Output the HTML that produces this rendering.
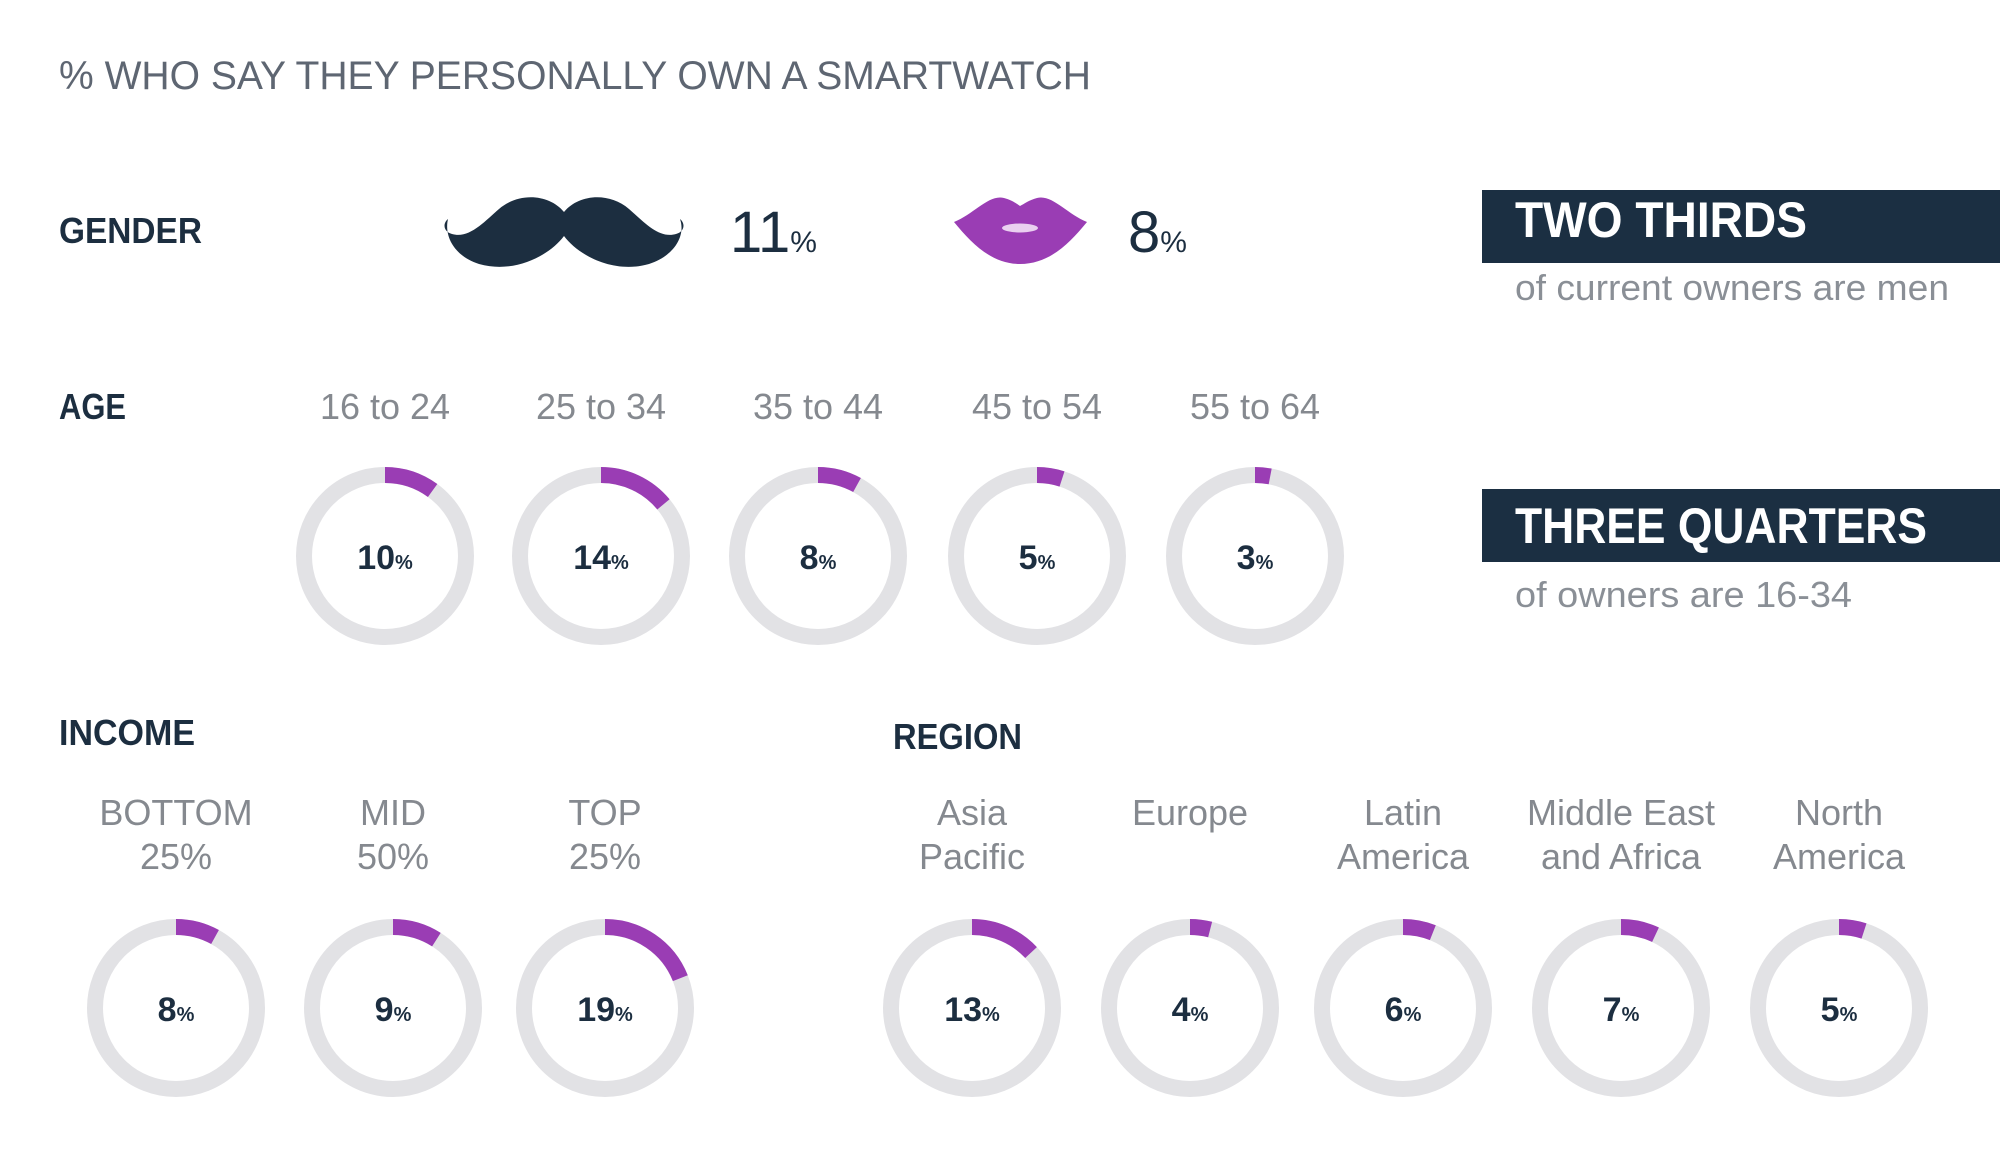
<!DOCTYPE html>
<html><head><meta charset="utf-8"><style>
html,body{margin:0;padding:0;background:#fff;}
svg{display:block;}
text{font-family:"Liberation Sans",sans-serif;}
</style></head><body>
<svg width="2000" height="1172" viewBox="0 0 2000 1172" xmlns="http://www.w3.org/2000/svg">
<rect width="2000" height="1172" fill="#fff"/>
<text x="59" y="89" font-size="40" fill="#5e6672" textLength="1032" lengthAdjust="spacingAndGlyphs">% WHO SAY THEY PERSONALLY OWN A SMARTWATCH</text>

<g font-weight="bold" fill="#1c2e40" font-size="36">
<text x="59" y="243" textLength="143" lengthAdjust="spacingAndGlyphs">GENDER</text>
<text x="59" y="419" textLength="67" lengthAdjust="spacingAndGlyphs">AGE</text>
<text x="59" y="745" textLength="136" lengthAdjust="spacingAndGlyphs">INCOME</text>
<text x="893" y="749" textLength="129" lengthAdjust="spacingAndGlyphs">REGION</text>
</g>

<g transform="translate(444,194)">
<path fill="#1c2e40" d="M120,18 C105,0 75,-2 55,15 C40,28 25,45 8,40 C0,38 -2,30 4,25 C0,42 10,62 35,70 C70,80 105,62 120,42 C135,62 170,80 205,70 C230,62 242,42 236,25 C242,30 240,38 232,40 C215,45 200,28 185,15 C165,-2 135,0 120,18 Z"/>
</g>
<text x="730" y="252" font-size="58" fill="#1c2e40">11<tspan font-size="30">%</tspan></text>
<g transform="translate(954,194)">
<path fill="#9a3db4" d="M0,28 C20,20 35,0 50,4 C58,6 63,10 66,12 C70,10 75,6 83,4 C98,0 113,20 133,28 C115,50 95,70 66,70 C38,70 18,50 0,28 Z"/>
<ellipse cx="66" cy="34" rx="18" ry="4.5" fill="#ead0f0"/>
</g>
<text x="1128" y="252" font-size="58" fill="#1c2e40">8<tspan font-size="30">%</tspan></text>

<rect x="1482" y="190" width="518" height="73" fill="#1b2f42"/>
<text x="1515" y="237" font-size="50" font-weight="bold" fill="#fff" textLength="292" lengthAdjust="spacingAndGlyphs">TWO THIRDS</text>
<text x="1515" y="300" font-size="36" fill="#8a8f96" textLength="434" lengthAdjust="spacingAndGlyphs">of current owners are men</text>
<rect x="1482" y="489" width="518" height="73" fill="#1b2f42"/>
<text x="1515" y="543" font-size="50" font-weight="bold" fill="#fff" textLength="412" lengthAdjust="spacingAndGlyphs">THREE QUARTERS</text>
<text x="1515" y="607" font-size="36" fill="#8a8f96" textLength="337" lengthAdjust="spacingAndGlyphs">of owners are 16-34</text>

<g font-size="36" fill="#85898f" text-anchor="middle">
<text x="385" y="419">16 to 24</text>
<text x="601" y="419">25 to 34</text>
<text x="818" y="419">35 to 44</text>
<text x="1037" y="419">45 to 54</text>
<text x="1255" y="419">55 to 64</text>
<text x="176" y="825">BOTTOM</text><text x="176" y="869">25%</text>
<text x="393" y="825">MID</text><text x="393" y="869">50%</text>
<text x="605" y="825">TOP</text><text x="605" y="869">25%</text>
<text x="972" y="825">Asia</text><text x="972" y="869">Pacific</text>
<text x="1190" y="825">Europe</text>
<text x="1403" y="825">Latin</text><text x="1403" y="869">America</text>
<text x="1621" y="825">Middle East</text><text x="1621" y="869">and Africa</text>
<text x="1839" y="825">North</text><text x="1839" y="869">America</text>
</g>

<g fill="none" stroke="#e2e2e5" stroke-width="16">
<circle cx="385" cy="556" r="81"/><circle cx="601" cy="556" r="81"/><circle cx="818" cy="556" r="81"/><circle cx="1037" cy="556" r="81"/><circle cx="1255" cy="556" r="81"/>
<circle cx="176" cy="1008" r="81"/><circle cx="393" cy="1008" r="81"/><circle cx="605" cy="1008" r="81"/>
<circle cx="972" cy="1008" r="81"/><circle cx="1190" cy="1008" r="81"/><circle cx="1403" cy="1008" r="81"/><circle cx="1621" cy="1008" r="81"/><circle cx="1839" cy="1008" r="81"/>
</g>
<g fill="none" stroke="#9a3db4" stroke-width="16">
<circle cx="385" cy="556" r="81" stroke-dasharray="50.89 600" transform="rotate(-90 385 556)"/>
<circle cx="601" cy="556" r="81" stroke-dasharray="71.25 600" transform="rotate(-90 601 556)"/>
<circle cx="818" cy="556" r="81" stroke-dasharray="40.72 600" transform="rotate(-90 818 556)"/>
<circle cx="1037" cy="556" r="81" stroke-dasharray="25.45 600" transform="rotate(-90 1037 556)"/>
<circle cx="1255" cy="556" r="81" stroke-dasharray="15.27 600" transform="rotate(-90 1255 556)"/>
<circle cx="176" cy="1008" r="81" stroke-dasharray="40.72 600" transform="rotate(-90 176 1008)"/>
<circle cx="393" cy="1008" r="81" stroke-dasharray="45.80 600" transform="rotate(-90 393 1008)"/>
<circle cx="605" cy="1008" r="81" stroke-dasharray="96.70 600" transform="rotate(-90 605 1008)"/>
<circle cx="972" cy="1008" r="81" stroke-dasharray="66.16 600" transform="rotate(-90 972 1008)"/>
<circle cx="1190" cy="1008" r="81" stroke-dasharray="20.36 600" transform="rotate(-90 1190 1008)"/>
<circle cx="1403" cy="1008" r="81" stroke-dasharray="30.54 600" transform="rotate(-90 1403 1008)"/>
<circle cx="1621" cy="1008" r="81" stroke-dasharray="35.63 600" transform="rotate(-90 1621 1008)"/>
<circle cx="1839" cy="1008" r="81" stroke-dasharray="25.45 600" transform="rotate(-90 1839 1008)"/>
</g>
<g font-size="34" font-weight="bold" fill="#1c2e40" text-anchor="middle">
<text x="385" y="569">10<tspan font-size="20">%</tspan></text>
<text x="601" y="569">14<tspan font-size="20">%</tspan></text>
<text x="818" y="569">8<tspan font-size="20">%</tspan></text>
<text x="1037" y="569">5<tspan font-size="20">%</tspan></text>
<text x="1255" y="569">3<tspan font-size="20">%</tspan></text>
<text x="176" y="1021">8<tspan font-size="20">%</tspan></text>
<text x="393" y="1021">9<tspan font-size="20">%</tspan></text>
<text x="605" y="1021">19<tspan font-size="20">%</tspan></text>
<text x="972" y="1021">13<tspan font-size="20">%</tspan></text>
<text x="1190" y="1021">4<tspan font-size="20">%</tspan></text>
<text x="1403" y="1021">6<tspan font-size="20">%</tspan></text>
<text x="1621" y="1021">7<tspan font-size="20">%</tspan></text>
<text x="1839" y="1021">5<tspan font-size="20">%</tspan></text>
</g>
</svg>
</body></html>
